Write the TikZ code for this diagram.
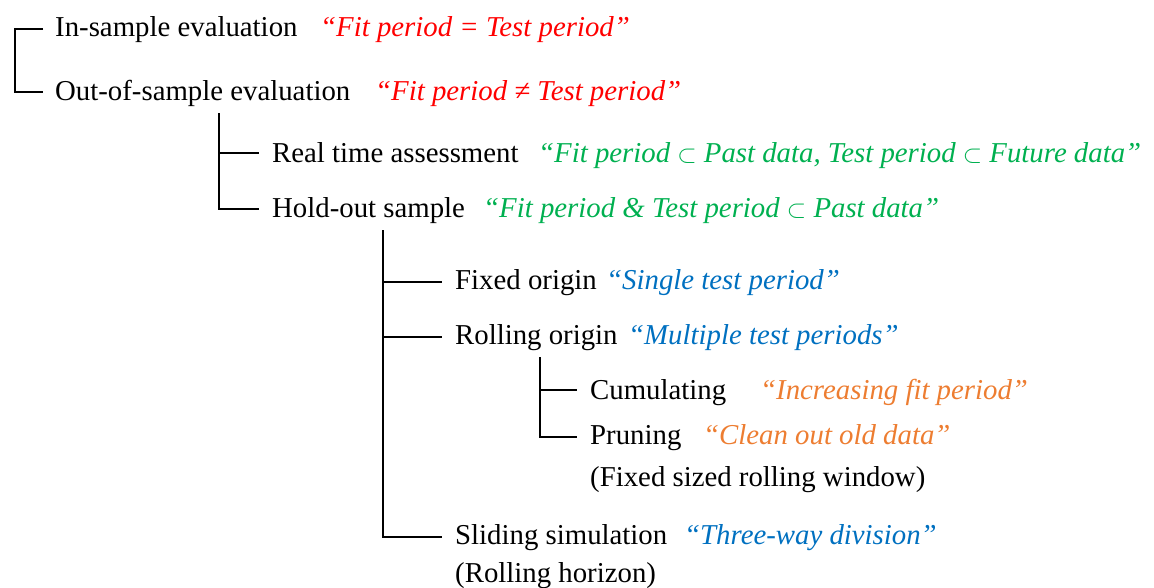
\documentclass[tikz,border=0pt]{standalone}
\usepackage{fontspec}
\setmainfont{Liberation Serif}
\definecolor{qred}{RGB}{255,0,0}
\definecolor{qgreen}{RGB}{0,176,80}
\definecolor{qblue}{RGB}{0,112,192}
\definecolor{qorange}{RGB}{237,125,49}
\begin{document}
\begin{tikzpicture}[x=1pt,y=1pt,
  lbl/.style={anchor=west,inner sep=0pt,text height=19pt,text depth=0pt,font=\fontsize{28.8}{34}\selectfont},
  quote/.style={lbl,font=\fontsize{28.8}{34}\selectfont\itshape},
  conn/.style={draw=black,line width=1.2pt}]
\useasboundingbox (0,0) rectangle (1154,-587);
% level 1
\node[lbl] (ins) at (55,-27) {In-sample evaluation};
\node[quote,text=qred] (qins) at (320,-27) {“Fit period = Test period”};
\node[lbl] (oos) at (55,-91) {Out-of-sample evaluation};
\node[quote,text=qred] (qoos) at (375,-91) {“Fit period ≠ Test period”};
% level 2
\node[lbl] (real) at (272,-153) {Real time assessment};
\node[quote,text=qgreen] (qreal) at (538,-153) {“Fit period $\subset$ Past data, Test period $\subset$ Future data”};
\node[lbl] (hold) at (272,-208) {Hold-out sample};
\node[quote,text=qgreen] (qhold) at (483,-208) {“Fit period \& Test period $\subset$ Past data”};
% level 3
\node[lbl] (fixed) at (455,-280) {Fixed origin};
\node[quote,text=qblue] (qfixed) at (606,-280) {“Single test period”};
\node[lbl] (roll) at (455,-335) {Rolling origin};
\node[quote,text=qblue] (qroll) at (628,-335) {“Multiple test periods”};
\node[lbl] (slide) at (455,-535) {Sliding simulation};
\node[quote,text=qblue] (qslide) at (684,-535) {“Three-way division”};
\node[lbl] (slide2) at (455,-573) {(Rolling horizon)};
% level 4
\node[lbl] (cum) at (590,-390) {Cumulating};
\node[quote,text=qorange] (qcum) at (760,-390) {“Increasing fit period”};
\node[lbl] (prune) at (590,-435) {Pruning};
\node[quote,text=qorange] (qprune) at (703,-435) {“Clean out old data”};
\node[lbl] (prune2) at (590,-477) {(Fixed sized rolling window)};
% connectors
\coordinate (k2) at (219,-113);
\coordinate (k3) at (383,-230);
\coordinate (k4) at (540,-357);
\draw[conn] ([xshift=-12pt,yshift=-2pt]ins.west) -| ([xshift=-40pt,yshift=-1pt]oos.west) -- ([xshift=-12pt,yshift=-1pt]oos.west);
\draw[conn] (k2) |- ([xshift=-13pt,yshift=-1pt]hold.west);
\draw[conn] (k2 |- real.west) -- ([xshift=-13pt]real.west);
\draw[conn] (k3) |- ([xshift=-13pt,yshift=-2pt]slide.west);
\draw[conn] ([yshift=-2pt]k3 |- fixed.west) -- ([xshift=-13pt,yshift=-2pt]fixed.west);
\draw[conn] ([yshift=-2pt]k3 |- roll.west) -- ([xshift=-13pt,yshift=-2pt]roll.west);
\draw[conn] (k4) |- ([xshift=-13pt,yshift=-2pt]prune.west);
\draw[conn] (k4 |- cum.west) -- ([xshift=-13pt]cum.west);
\end{tikzpicture}
\end{document}
